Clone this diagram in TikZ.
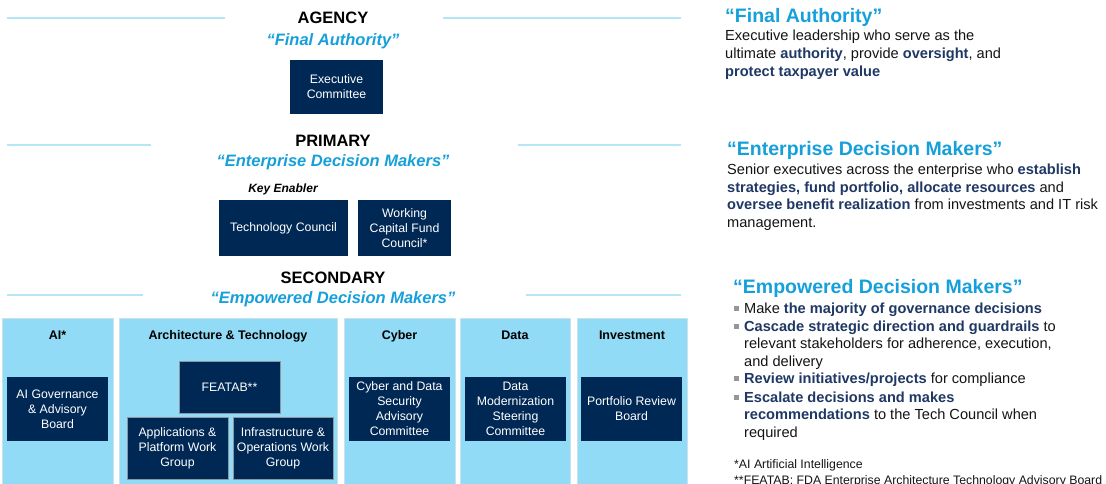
\documentclass[tikz,border=0pt]{standalone}
\usepackage{fontspec}
\setmainfont{Liberation Sans}
\definecolor{navy}{RGB}{0,40,85}
\definecolor{colbg}{RGB}{146,219,246}
\definecolor{colborder}{RGB}{200,226,238}
\definecolor{headblue}{RGB}{22,160,219}
\definecolor{darkbold}{RGB}{31,56,100}
\definecolor{linecol}{RGB}{180,230,247}
\definecolor{boxgray}{RGB}{140,150,162}
\definecolor{bodytext}{RGB}{20,20,20}
\definecolor{bulgray}{RGB}{150,150,150}
\newcommand\bhl[1]{\textbf{\color{darkbold}#1}}
\newcommand\bsq{\makebox[10pt][l]{\textcolor{bulgray}{\rule[2.5pt]{4.5pt}{4.5pt}}}}
\begin{document}
\begin{tikzpicture}[x=1pt,y=-1pt,
  hrule/.style={draw=linecol, line width=2pt},
  navybox/.style={fill=navy, text=white, align=center, inner sep=1pt, font=\fontsize{12.3}{15}\selectfont},
  framedbox/.style={navybox, draw=boxgray, line width=1pt},
  colbox/.style={fill=colbg, draw=colborder, line width=0.8pt, anchor=north, inner sep=0},
  coltitle/.style={font=\fontsize{12.5}{15}\selectfont\bfseries, text=black, anchor=base},
  tier/.style={font=\fontsize{16.5}{20}\selectfont\bfseries, text=black, anchor=base},
  tiersub/.style={font=\fontsize{16.5}{20}\selectfont\bfseries\itshape, text=headblue, anchor=base},
  rhead/.style={font=\fontsize{19.5}{22}\selectfont\bfseries, text=headblue, anchor=base west, inner sep=0},
  rbody/.style={font=\fontsize{14.6}{18}\selectfont, text=bodytext, anchor=base west, inner sep=0},
  fnote/.style={font=\fontsize{12.3}{15}\selectfont, text=bodytext, anchor=base west, inner sep=0}
]
\useasboundingbox (0,0) rectangle (1106,483);
\fill[white] (0,0) rectangle (1106,483);

% horizontal rules
\draw[hrule] (7,17.5) -- (225,17.5);
\draw[hrule] (443,17.5) -- (681,17.5);
\draw[hrule] (7,145) -- (151,145);
\draw[hrule] (518,145) -- (681,145);
\draw[hrule] (7,295) -- (143,295);
\draw[hrule] (526,295) -- (681,295);

% tier titles
\node[tier] (agency) at (333,23) {AGENCY};
\node[tiersub] (agencysub) at (333,45) {“Final Authority”};
\node[navybox, minimum width=93, minimum height=54] (exec) at (336.5,87) {Executive\\Committee};

\node[tier] (primary) at (333,146) {PRIMARY};
\node[tiersub] (primarysub) at (333,166) {“Enterprise Decision Makers”};
\node[font=\fontsize{12}{14}\selectfont\bfseries\itshape, anchor=base] (keyen) at (283,192) {Key Enabler};
\node[navybox, minimum width=129, minimum height=56] (tech) at (283.5,228) {Technology Council};
\node[navybox, minimum width=93, minimum height=56] (wcf) at (404.5,228) {Working\\Capital Fund\\Council*};

\node[tier] (secondary) at (333,283) {SECONDARY};
\node[tiersub] (secondarysub) at (333,303) {“Empowered Decision Makers”};

% columns
\node[colbox, minimum width=111, minimum height=170] (colai) at (57.5,318) {};
\node[colbox, minimum width=218, minimum height=170] (colarch) at (228,318) {};
\node[colbox, minimum width=111, minimum height=170] (colcyber) at (399.5,318) {};
\node[colbox, minimum width=110, minimum height=170] (coldata) at (515,318) {};
\node[colbox, minimum width=110, minimum height=170] (colinv) at (632,318) {};

\node[coltitle] (tai) at (57.5,339) {AI*};
\node[coltitle] (tarch) at (228,339) {Architecture \& Technology};
\node[coltitle] (tcyber) at (399.5,339) {Cyber};
\node[coltitle] (tdata) at (515,339) {Data};
\node[coltitle] (tinv) at (632,339) {Investment};

\node[navybox, minimum width=101, minimum height=64] (aigov) at (57.5,409) {AI Governance\\\& Advisory\\Board};
\node[framedbox, minimum width=101, minimum height=52] (featab) at (229.5,387) {FEATAB**};
\node[framedbox, minimum width=101, minimum height=62] (app) at (177.5,448) {Applications \&\\Platform Work\\Group};
\node[framedbox, minimum width=100, minimum height=62] (infra) at (283,448) {Infrastructure \&\\Operations Work\\Group};
\node[navybox, minimum width=101, minimum height=64] (cyberbox) at (399.5,409) {Cyber and Data\\Security\\Advisory\\Committee};
\node[navybox, minimum width=101, minimum height=64] (databox) at (515.5,409) {Data\\Modernization\\Steering\\Committee};
\node[navybox, minimum width=101, minimum height=64] (portbox) at (631.5,409) {Portfolio Review\\Board};

% right-hand text
\node[rhead] (h1) at (725,22) {“Final Authority”};
\node[rbody] (a1) at (725,40) {Executive leadership who serve as the};
\node[rbody] (a2) at (725,58) {ultimate \bhl{authority}, provide \bhl{oversight}, and};
\node[rbody] (a3) at (725,76) {\bhl{protect taxpayer value}};

\node[rhead] (h2) at (727,155) {“Enterprise Decision Makers”};
\node[rbody] (b1) at (727,174) {Senior executives across the enterprise who \bhl{establish}};
\node[rbody] (b2) at (727,192) {\bhl{strategies, fund portfolio, allocate resources} and};
\node[rbody] (b3) at (727,209) {\bhl{oversee benefit realization} from investments and IT risk};
\node[rbody] (b4) at (727,227) {management.};

\node[rhead] (h3) at (733,293) {“Empowered Decision Makers”};
\node[rbody] (c1) at (734,313) {\bsq Make \bhl{the majority of governance decisions}};
\node[rbody] (c2) at (734,331) {\bsq\bhl{Cascade strategic direction and guardrails} to};
\node[rbody] (c3) at (744,348) {relevant stakeholders for adherence, execution,};
\node[rbody] (c4) at (744,366) {and delivery};
\node[rbody] (c5) at (734,383) {\bsq\bhl{Review initiatives/projects} for compliance};
\node[rbody] (c6) at (734,402) {\bsq\bhl{Escalate decisions and makes}};
\node[rbody] (c7) at (744,419) {\bhl{recommendations} to the Tech Council when};
\node[rbody] (c8) at (744,437) {required};

\node[fnote] (f1) at (734,468) {*AI Artificial Intelligence};
\node[fnote] (f2) at (734,484) {**FEATAB: FDA Enterprise Architecture Technology Advisory Board};
\end{tikzpicture}
\end{document}
